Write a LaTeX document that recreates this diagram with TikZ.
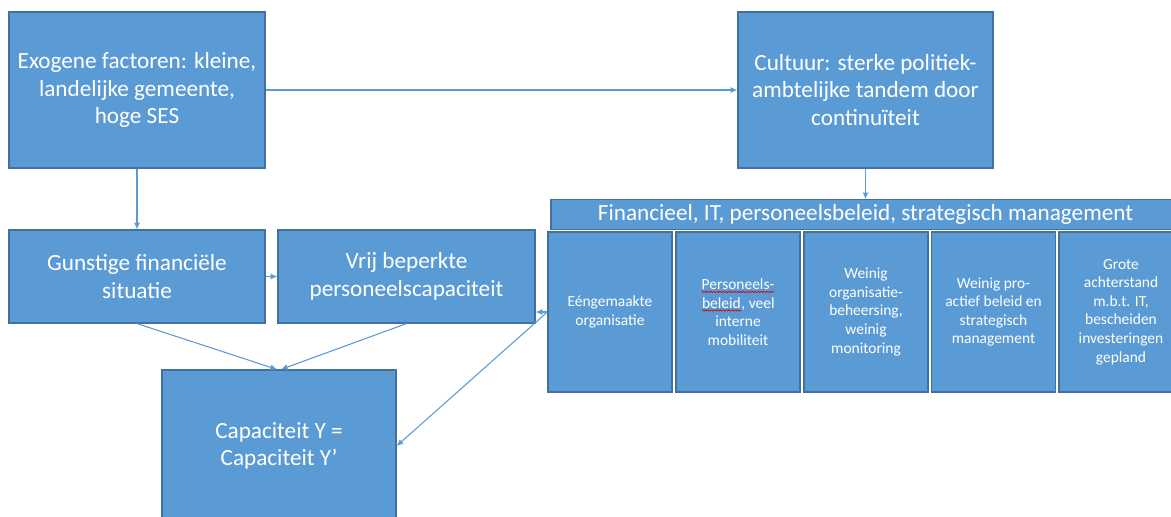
\documentclass[tikz,border=0pt]{standalone}
\usepackage{fontspec}
\setmainfont{Carlito}
\usetikzlibrary{arrows.meta,decorations.pathmorphing}
\definecolor{boxfill}{HTML}{5B9BD5}
\definecolor{boxline}{HTML}{41719C}
\definecolor{linkcol}{HTML}{5B9BD5}
% red spell-check squiggle under a word
\newcommand\spellmark[1]{\tikz[baseline=(w.base)]{%
  \node[inner sep=0pt,minimum width=0pt,minimum height=0pt,draw=none,fill=none,text=white](w){#1};
  \draw[red!85!black,line width=0.5pt,decorate,decoration={snake,amplitude=0.5pt,segment length=2.2pt}]
  ([yshift=-1.8pt]w.base west) -- ([yshift=-1.8pt]w.base east);}}
\tikzset{
  box/.style={draw=boxline,line width=0.9pt,fill=boxfill,text=white,inner sep=0pt,
    align=center,font=\fontsize{17.4}{20.8}\selectfont},
  smallbox/.style={box,font=\fontsize{11.6}{13.9}\selectfont,
    minimum width=93pt,minimum height=120pt},
  link/.style={draw=linkcol,line width=0.8pt,-{Latex[length=5pt,width=4.5pt]}}
}
\begin{document}
\begin{tikzpicture}[x=0.75pt,y=-0.75pt]
\clip (0,0) rectangle (1171,517);
\fill[white] (0,0) rectangle (1171,517);

\node[box,minimum width=192pt,minimum height=117pt] (exo) at (137,90)
  {Exogene factoren: kleine,\\ landelijke gemeente,\\ hoge SES};
\node[box,minimum width=191.25pt,minimum height=117pt] (cult) at (865.5,90)
  {Cultuur: sterke politiek-\\ ambtelijke tandem door\\ continuïteit};
\node[box,minimum width=192pt,minimum height=69.75pt] (gun) at (137,276.5)
  {Gunstige financiële\\ situatie};
\node[box,minimum width=192.75pt,minimum height=69.75pt] (vrij) at (406.5,276.5)
  {Vrij beperkte\\ personeelscapaciteit};
\node[box,minimum width=175.5pt,minimum height=114pt] (cap) at (279,446)
  {Capaciteit Y =\\ Capaciteit Y’};

\node[box,minimum width=471.75pt,minimum height=22pt] (hdr) at (865.5,214.5)
  {Financieel, IT, personeelsbeleid, strategisch management};
\node[smallbox] (s1) at (610,312) {Eéngemaakte\\ organisatie};
\node[smallbox] (s2) at (738,312) {\spellmark{Personeels-}\\ \spellmark{beleid}, veel\\ interne\\ mobiliteit};
\node[smallbox] (s3) at (866,312) {Weinig\\ organisatie-\\ beheersing,\\ weinig\\ monitoring};
\node[smallbox] (s4) at (993.5,312) {Weinig pro-\\ actief beleid en\\ strategisch\\ management};
\node[smallbox] (s5) at (1121,312) {Grote\\ achterstand\\ m.b.t. IT,\\ bescheiden\\ investeringen\\ gepland};

\draw[link] (exo.east) -- (cult.west);
\draw[link] (exo.south) -- (gun.north);
\draw[link] (cult.south) -- (hdr.north);
\draw[link] (gun.east) -- (vrij.west);
\draw[link] (gun.south) -- ([xshift=-1.5pt]cap.north);
\draw[link] (vrij.south) -- ([xshift=1.5pt]cap.north);
\draw[link] (s1.west) -- (s1.west -| vrij.east);
\draw[link] (s1.west) -- (cap.east);
\end{tikzpicture}
\end{document}
